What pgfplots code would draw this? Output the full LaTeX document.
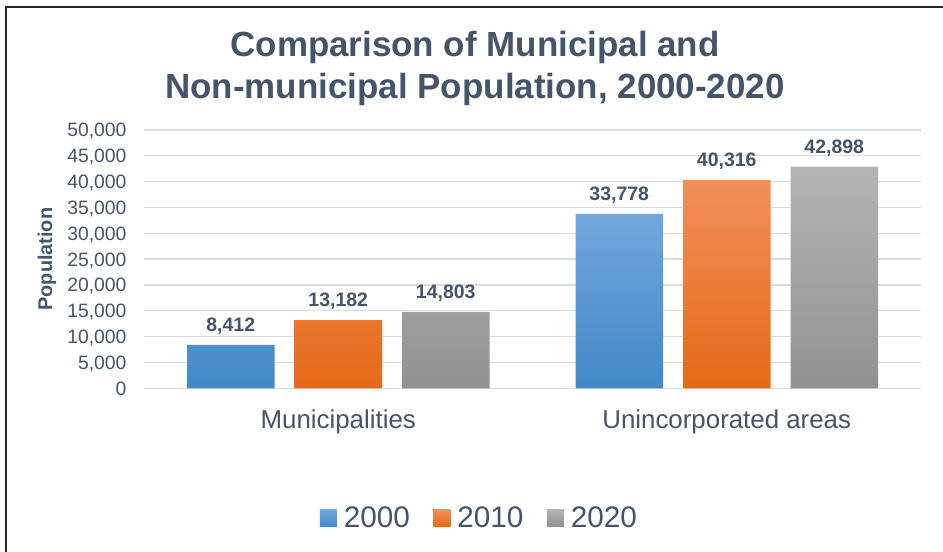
\documentclass[border=0pt]{standalone}
\usepackage{pgfplots}
\pgfplotsset{compat=1.18}
\usepackage{fontspec}
\setmainfont{Liberation Sans}
\definecolor{txt}{RGB}{68,84,106}
\definecolor{gridc}{RGB}{217,221,228}
\definecolor{btop}{RGB}{114,167,220}
\definecolor{bbot}{RGB}{66,136,200}
\definecolor{otop}{RGB}{241,143,90}
\definecolor{obot}{RGB}{228,106,23}
\definecolor{gtop}{RGB}{180,180,180}
\definecolor{gbot}{RGB}{145,145,145}
\definecolor{frame}{RGB}{38,38,38}
\begin{document}
\begin{tikzpicture}
\useasboundingbox (0,0) rectangle (707.25pt,414pt);
\draw[line width=1.1pt, frame] (4.5pt,0pt) -- (4.5pt,408.75pt) -- (707.25pt,408.75pt);
\node[anchor=base, inner sep=0pt, text=txt, font=\fontsize{26.2}{30}\selectfont\bfseries] at (356.25pt,371.5pt) {Comparison of Municipal and};
\node[anchor=base, inner sep=0pt, text=txt, font=\fontsize{26.2}{30}\selectfont\bfseries] at (356.25pt,340.3pt) {Non-municipal Population, 2000-2020};
\begin{axis}[
  at={(108pt,122.8pt)}, anchor=south west,
  scale only axis, width=582.75pt, height=193.7pt,
  xmin=-0.5, xmax=1.5, ymin=0, ymax=50000,
  xtick={0,1}, xticklabels={Municipalities, Unincorporated areas},
  ytick={0,5000,...,50000},
  scaled y ticks=false,
  ymajorgrids, grid style={gridc, line width=1pt},
  axis line style={draw=none},
  major tick length=0pt,
  /pgf/number format/assume math mode=true,
  /pgf/number format/1000 sep={,},
  yticklabel style={anchor=base east, inner sep=0pt, xshift=-13pt, yshift=-5.2pt, text=txt, font=\fontsize{14.5}{17}\selectfont},
  xticklabel style={anchor=base, inner sep=0pt, yshift=-30pt, text=txt, font=\fontsize{19.4}{23}\selectfont},
  ylabel={Population},
  every axis y label/.style={at={(axis description cs:-0.12484,0.5)}, rotate=90, anchor=center, inner sep=0pt, text=txt, font=\fontsize{14.9}{17}\selectfont\bfseries},
  ybar=15pt, bar width=65.625pt,
  nodes near coords,
  every node near coord/.append style={anchor=south, text depth=0pt, inner sep=0pt, yshift=9.75pt, text=txt, font=\fontsize{14.6}{17}\selectfont\bfseries},
  clip=false,
  legend columns=-1,
  legend style={at={(axis description cs:0.4304,-0.502)}, anchor=center, draw=none, fill=none, inner sep=0pt, nodes={inner sep=0pt}, font=\fontsize{22.3}{26}\selectfont, text=txt,
    /tikz/every odd column/.style={column sep=5.25pt},
    /tikz/every even column/.style={column sep=17.5pt}},
  legend image code/.code={\fill[#1] (0pt,-6.375pt) rectangle (12.75pt,6.375pt);},
]
\addplot[draw=none, top color=btop, bottom color=bbot] coordinates {(0,8412) (1,33778)};
\addplot[draw=none, top color=otop, bottom color=obot] coordinates {(0,13182) (1,40316)};
\addplot[draw=none, top color=gtop, bottom color=gbot] coordinates {(0,14803) (1,42898)};
\legend{2000,2010,2020}
\end{axis}
\end{tikzpicture}
\end{document}
